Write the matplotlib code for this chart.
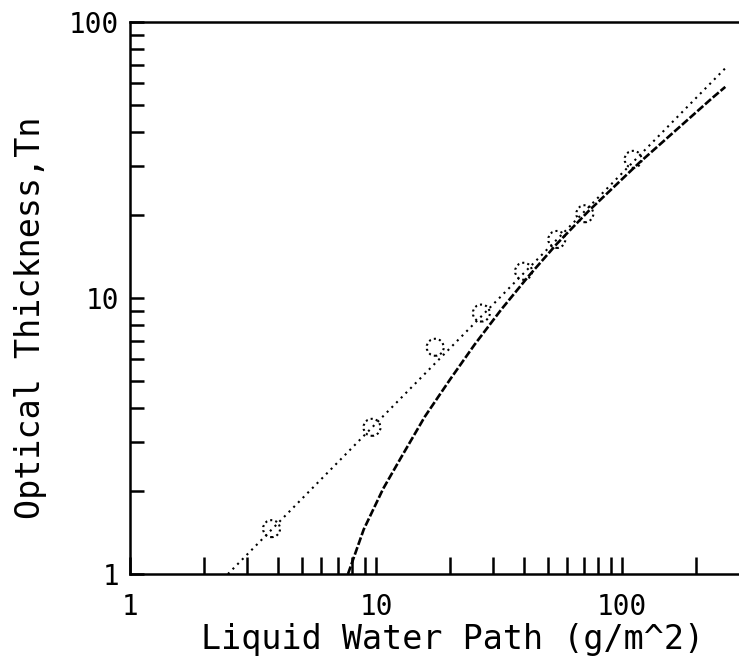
import matplotlib
matplotlib.use("Agg")
import matplotlib.pyplot as plt
from matplotlib.ticker import LogLocator, FixedLocator, NullFormatter

# Measured data points (circles)
lwp_points = [3.76, 9.63, 17.4, 26.8, 39.8, 54.3, 70.6, 111.0]
tau_points = [1.46, 3.40, 6.63, 8.82, 12.5, 16.3, 20.2, 31.8]

# Dotted fit line (straight in log-log space)
fit_x = [2.5, 263.0]
fit_y = [1.0, 68.0]

# Dashed model curve
curve_x = [7.69, 8.91, 10.7, 12.6, 15.8, 20.0, 25.1, 32.4, 41.7, 54.3, 73.3, 117.5, 233.0, 263.0]
curve_y = [1.00, 1.45, 2.04, 2.63, 3.72, 5.07, 6.76, 9.12, 12.0, 15.7, 20.7, 30.9, 53.1, 58.2]

x_major = [1, 10, 100]
x_labels = ["1", "10", "100"]
y_major = [1, 10, 100]
y_labels = ["1", "10", "100"]

font = ["DejaVu Sans Mono"]

fig = plt.figure(figsize=(7.39, 6.61), dpi=100)
ax = fig.add_axes([0.176, 0.1316, 0.824, 0.8351])

ax.set_xscale("log")
ax.set_yscale("log")
ax.set_xlim(1, 299)
ax.set_ylim(1, 100)

ax.plot(fit_x, fit_y, color="black", lw=1.5, linestyle=(0, (1, 2.2)))
ax.plot(curve_x, curve_y, color="black", lw=1.9, linestyle=(0, (3, 0.9)))
ax.scatter(lwp_points, tau_points, s=150, facecolors="none", edgecolors="black",
           linewidths=1.5, linestyles=(0, (1, 1.5)), zorder=3)

for s in ["left", "bottom", "top"]:
    ax.spines[s].set_linewidth(1.8)
ax.spines["right"].set_visible(False)

ax.xaxis.set_major_locator(FixedLocator(x_major))
ax.set_xticklabels(x_labels, fontfamily=font, fontsize=20)
ax.yaxis.set_major_locator(FixedLocator(y_major))
ax.set_yticklabels(y_labels, fontfamily=font, fontsize=20)
ax.xaxis.set_minor_locator(LogLocator(base=10, subs=range(2, 10)))
ax.yaxis.set_minor_locator(LogLocator(base=10, subs=range(2, 10)))
ax.xaxis.set_minor_formatter(NullFormatter())
ax.yaxis.set_minor_formatter(NullFormatter())

ax.tick_params(axis="both", which="both", direction="in", width=1.8, colors="black")
ax.tick_params(axis="x", which="both", length=12, pad=14, top=False)
ax.tick_params(axis="y", which="both", length=10, pad=8, right=False)

ax.set_xlabel("Liquid Water Path (g/m^2)", fontfamily=font, fontsize=24)
ax.set_ylabel("Optical Thickness,Tn", fontfamily=font, fontsize=24)
ax.xaxis.set_label_coords(0.53, -0.088)
ax.yaxis.set_label_coords(-0.137, 0.465)

fig.savefig("out.png", dpi=100)
